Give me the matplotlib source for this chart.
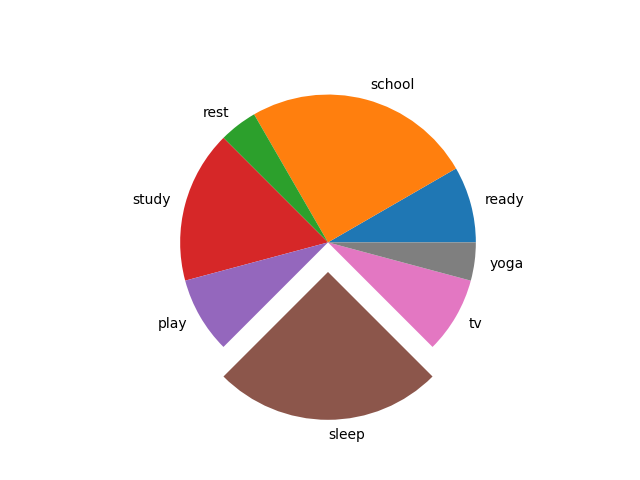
import matplotlib
matplotlib.use('Agg')
import matplotlib.pyplot as plt

labels = ["ready", "school", "rest", "study", "play", "sleep", "tv", "yoga"]
hours = [2, 6, 1, 4, 2, 6, 2, 1]
explode = [0, 0, 0, 0, 0, 0.2, 0, 0]

fig = plt.figure(figsize=(6.4, 4.8), dpi=100)
plt.pie(hours, labels=labels, explode=explode)
plt.savefig("out.png")
plt.close()
